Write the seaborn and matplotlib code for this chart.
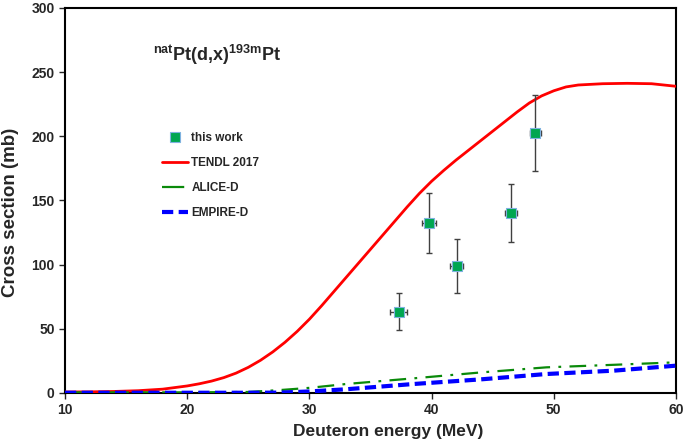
import numpy as np
import pandas as pd
import matplotlib
matplotlib.use("Agg")
import matplotlib.pyplot as plt
from matplotlib.lines import Line2D
import seaborn as sns

# ---- data ----
exp_E = [37.3, 39.8, 42.05, 46.5, 48.5]
exp_sigma = [63.3, 132.2, 99.2, 140.0, 202.4]
exp_dsigma = [14.5, 23.4, 21.0, 22.6, 29.5]
exp_dE = [0.68, 0.6, 0.55, 0.5, 0.45]

tendl_E = [10, 12, 14, 16, 18, 20, 21, 22, 23, 24, 25, 26, 27, 28, 29, 30,
           31, 32, 33, 34, 35, 36, 37, 38, 39, 40, 41, 42, 43, 44, 45, 46,
           47, 48, 49, 50, 51, 52, 54, 56, 58, 60]
tendl_sigma = [0.8, 0.9, 1.2, 1.8, 3.0, 5.5, 7.2, 9.3, 12.0, 15.5, 20.0, 25.5, 32.0, 39.5, 48.0, 57.5,
               68.0, 79.0, 90.0, 101.0, 112.0, 123.0, 134.0, 145.0, 155.5, 165.0, 173.5, 181.5, 189.0, 196.5, 204.0, 211.5,
               219.0, 226.0, 231.5, 235.5, 238.5, 240.0, 241.0, 241.3, 241.0, 239.0]

alice_E = [10, 15, 20, 25, 27.6, 30, 33, 38.5, 44, 49.4, 55, 60]
alice_sigma = [0.5, 0.5, 0.5, 0.8, 2.3, 4.0, 7.0, 11.4, 16.0, 20.0, 22.0, 23.9]

empire_E = [10, 15, 20, 25, 27.6, 30, 33, 38.5, 44, 49.4, 54.9, 60]
empire_sigma = [0.2, 0.2, 0.2, 0.2, 0.3, 1.2, 2.9, 7.0, 10.6, 14.8, 17.4, 21.3]

x_ticks = [10, 20, 30, 40, 50, 60]
y_ticks = [0, 50, 100, 150, 200, 250, 300]

# ---- style ----
sns.set_style("ticks")
plt.rcParams['font.family'] = ['Liberation Sans', 'DejaVu Sans']
plt.rcParams['font.weight'] = 'bold'
plt.rcParams['mathtext.fontset'] = 'custom'
plt.rcParams['mathtext.rm'] = 'Liberation Sans:bold'
plt.rcParams['mathtext.it'] = 'Liberation Sans:bold'
plt.rcParams['mathtext.bf'] = 'Liberation Sans:bold'

fig = plt.figure(figsize=(6.85, 4.46), dpi=100)
ax = fig.add_axes([65/685, 53/446, 611/685, 385/446])

df_t = pd.DataFrame({'E': tendl_E, 's': tendl_sigma})
df_a = pd.DataFrame({'E': alice_E, 's': alice_sigma})
df_m = pd.DataFrame({'E': empire_E, 's': empire_sigma})
df_x = pd.DataFrame({'E': exp_E, 's': exp_sigma})

sns.lineplot(data=df_t, x='E', y='s', ax=ax, color='#ff0000', lw=2.0,
             zorder=3, legend=False)
sns.lineplot(data=df_a, x='E', y='s', ax=ax, color='#0a8a0a', lw=1.6,
             zorder=3, legend=False)
ax.lines[-1].set_dashes([7.5, 3.75, 1.25, 3.75])
sns.lineplot(data=df_m, x='E', y='s', ax=ax, color='#0000ff', lw=3.0,
             zorder=3, legend=False)
ax.lines[-1].set_dashes([2.7, 1.3])

ax.errorbar(exp_E, exp_sigma, yerr=exp_dsigma, xerr=exp_dE, fmt='none',
            ecolor='#404040', elinewidth=1.0, capsize=2.5, capthick=1.0, zorder=4)
sns.scatterplot(data=df_x, x='E', y='s', ax=ax, marker='s', s=42,
                color='#00a651', edgecolor='#7fb2e0', linewidth=0.8,
                zorder=5, legend=False)

ax.set_xlim(10, 60)
ax.set_ylim(0, 300)
ax.set_xticks(x_ticks)
ax.set_yticks(y_ticks)
ax.tick_params(axis='both', labelsize=10, width=1.0, length=4, direction='out')
for lab in ax.get_xticklabels() + ax.get_yticklabels():
    lab.set_fontweight('bold')
for sp in ax.spines.values():
    sp.set_visible(True)
    sp.set_linewidth(1.5)
    sp.set_color('black')

ax.set_xlabel('Deuteron energy (MeV)', fontsize=12.5, fontweight='bold', labelpad=5)
ax.set_ylabel('Cross section (mb)', fontsize=13.5, fontweight='bold', labelpad=9)
ax.xaxis.label.set_x(0.529)
ax.yaxis.label.set_y(0.469)

ax.text(0.144, 0.862, r'$^{nat}$Pt(d,x)$^{193m}$Pt', transform=ax.transAxes,
        fontsize=13, fontweight='bold', va='baseline', ha='left')

h_pts = Line2D([], [], ls='none', marker='s', markersize=6.5,
               markerfacecolor='#00a651', markeredgecolor='#7fb2e0', markeredgewidth=0.8)
h_a = Line2D([], [], color='#0a8a0a', lw=1.6)
h_a.set_dashes([10, 3.5, 1.25, 3.5])
h_m = Line2D([], [], color='#0000ff', lw=3.0)
h_m.set_dashes([2.7, 1.3])
h_t = Line2D([], [], color='#ff0000', lw=2.0)
leg = ax.legend([h_pts, h_t, h_a, h_m], ['this work', 'TENDL 2017', 'ALICE-D', 'EMPIRE-D'],
                loc='center left', bbox_to_anchor=(0.149, 0.565), frameon=False,
                borderpad=0, handlelength=2.2, handletextpad=0.3,
                labelspacing=1.12, prop={'weight': 'bold', 'size': 8.5})

fig.savefig('out.png', dpi=100)
